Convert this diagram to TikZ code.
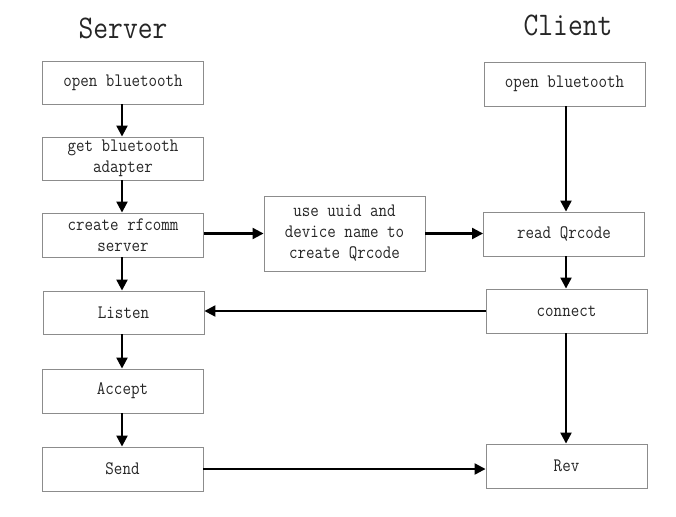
\documentclass[tikz,border=0pt]{standalone}
\usepackage{fontspec}
\newfontfamily\boxfont[FakeStretch=0.87]{Latin Modern Mono}
\usetikzlibrary{arrows.meta}
\tikzset{
  stepbox/.style={draw=black!45, line width=0.9pt, fill=white, minimum width=161pt, minimum height=44pt,
    inner sep=0pt, align=center, font=\boxfont\fontsize{19}{21}\selectfont, text=black!85},
  title/.style={font=\boxfont\fontsize{33}{38}\selectfont, text=black!85, inner sep=0pt},
  arr/.style={line width=2.2pt, -{Triangle[length=11pt,width=11pt]}}
}
\begin{document}
\begin{tikzpicture}[x=1pt,y=-1pt]
\useasboundingbox (0,0) rectangle (676,516);
\node[title] (ts) at (123,28) {Server};
\node[title] (tc) at (568,25) {Client};
\node[stepbox, minimum height=43pt] (s1) at (123,82.5) {open bluetooth};
\node[stepbox, minimum height=43pt] (s2) at (123,158.5) {get bluetooth\\adapter};
\node[stepbox] (s3) at (123,235) {create rfcomm\\server};
\node[stepbox, minimum height=43pt] (s4) at (123.5,312.5) {Listen};
\node[stepbox] (s5) at (122.5,391) {Accept};
\node[stepbox] (s6) at (122.5,469) {Send};
\node[stepbox, minimum height=75pt] (m) at (344.5,233.5) {use uuid and\\device name to\\create Qrcode};
\node[stepbox] (c1) at (564.5,84) {open bluetooth};
\node[stepbox] (c2) at (564,234) {read Qrcode};
\node[stepbox] (c3) at (566.5,311) {connect};
\node[stepbox] (c4) at (566.5,466) {Rev};
\coordinate (sx) at (122,0);
\coordinate (cx) at (566,0);
\draw[arr] (sx |- s1.south) -- (sx |- s2.north);
\draw[arr] (sx |- s2.south) -- (sx |- s3.north);
\draw[arr] (sx |- s3.south) -- (sx |- s4.north);
\draw[arr] (sx |- s4.south) -- (sx |- s5.north);
\draw[arr] (sx |- s5.south) -- (sx |- s6.north);
\draw[arr] (m.west -| s3.east) -- (m.west);
\draw[arr] (m.east) -- (m.east -| c2.west);
\draw[arr] (cx |- c1.south) -- (cx |- c2.north);
\draw[arr] (cx |- c2.south) -- (cx |- c3.north);
\draw[arr] (cx |- c3.south) -- (cx |- c4.north);
\draw[arr] (c3.west) -- (c3.west -| s4.east);
\draw[arr] (s6.east) -- (s6.east -| c4.west);
\end{tikzpicture}
\end{document}
